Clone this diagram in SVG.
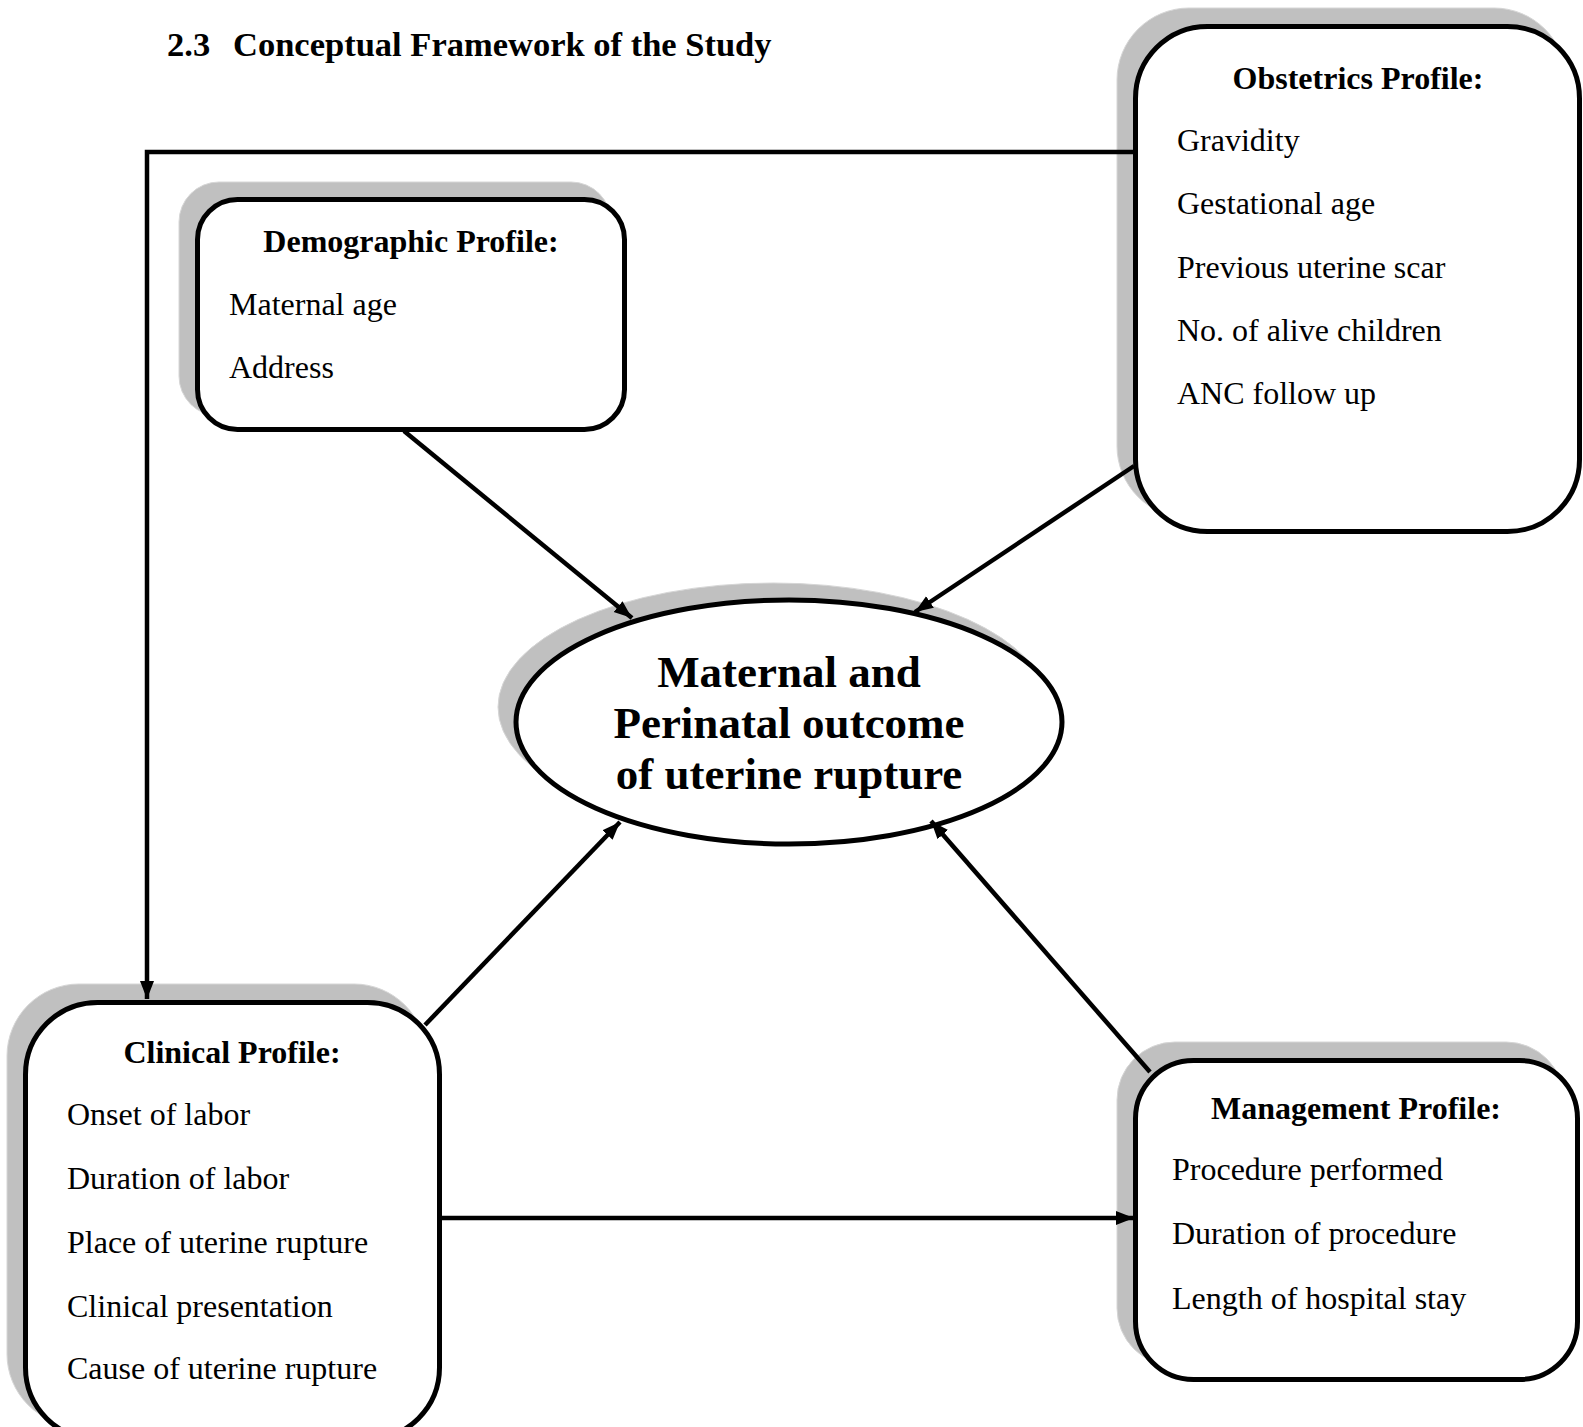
<svg xmlns="http://www.w3.org/2000/svg" width="1583" height="1427" viewBox="0 0 1583 1427">
<style>
.shadow{fill:#c0c0c0;stroke:#d6d6d6;stroke-width:1}
.box{fill:#fff;stroke:#000;stroke-width:5}
.conn{fill:none;stroke:#000;stroke-width:4.5}
text{font-family:"Liberation Serif","Times New Roman",serif;fill:#000}
.h{font-size:32px;font-weight:bold;text-anchor:middle}
.t{font-size:32px}
.c{font-size:45px;font-weight:bold;text-anchor:middle}
.title{font-size:34.5px;font-weight:bold}
</style>
<defs>
<marker id="arr" markerUnits="userSpaceOnUse" markerWidth="20" markerHeight="16" viewBox="0 0 20 16" refX="18" refY="8" orient="auto">
<path d="M0,1 L18,8 L0,15 Z" fill="#000"/>
</marker>
</defs>
<rect width="1583" height="1427" fill="#fff"/>
<g id="title">
<text class="title" x="167" y="56">2.3</text>
<text class="title" x="233" y="56">Conceptual Framework of the Study</text>
</g>
<g id="demographic">
<rect class="shadow" x="179" y="182" width="432" height="234" rx="40"/>
<rect class="box" x="197.5" y="199.5" width="427" height="230" rx="40"/>
<text class="h" x="411" y="252">Demographic Profile:</text>
<text class="t" x="229" y="315">Maternal age</text>
<text class="t" x="229" y="378">Address</text>
</g>
<g id="obstetrics">
<rect class="shadow" x="1117" y="8" width="449" height="510" rx="72"/>
<rect class="box" x="1135.5" y="26.5" width="444" height="505" rx="72"/>
<text class="h" x="1358" y="89">Obstetrics Profile:</text>
<text class="t" x="1177" y="151">Gravidity</text>
<text class="t" x="1177" y="214">Gestational age</text>
<text class="t" x="1177" y="278">Previous uterine scar</text>
<text class="t" x="1177" y="341">No. of alive children</text>
<text class="t" x="1177" y="404">ANC follow up</text>
</g>
<g id="outcome">
<ellipse class="shadow" cx="773" cy="707" rx="275" ry="124"/>
<ellipse class="box" cx="789" cy="722" rx="273" ry="122"/>
<text class="c" x="789" y="687">Maternal and</text>
<text class="c" x="789" y="738">Perinatal outcome</text>
<text class="c" x="789" y="789">of uterine rupture</text>
</g>
<g id="clinical">
<rect class="shadow" x="7" y="984" width="419" height="442" rx="72"/>
<rect class="box" x="25.5" y="1002.5" width="414" height="437" rx="72"/>
<text class="h" x="232" y="1063">Clinical Profile:</text>
<text class="t" x="67" y="1125">Onset of labor</text>
<text class="t" x="67" y="1189">Duration of labor</text>
<text class="t" x="67" y="1253">Place of uterine rupture</text>
<text class="t" x="67" y="1317">Clinical presentation</text>
<text class="t" x="67" y="1379">Cause of uterine rupture</text>
</g>
<g id="management">
<rect class="shadow" x="1117" y="1042" width="447" height="324" rx="58"/>
<rect class="box" x="1135.5" y="1060.5" width="442" height="319" rx="58"/>
<text class="h" x="1356" y="1119">Management Profile:</text>
<text class="t" x="1172" y="1180">Procedure performed</text>
<text class="t" x="1172" y="1244">Duration of procedure</text>
<text class="t" x="1172" y="1309">Length of hospital stay</text>
</g>
<g id="connectors">
<line class="conn" x1="404" y1="431" x2="632" y2="618" marker-end="url(#arr)"/>
<line class="conn" x1="1134" y1="466" x2="915" y2="612" marker-end="url(#arr)"/>
<line class="conn" x1="425" y1="1025" x2="620" y2="822" marker-end="url(#arr)"/>
<line class="conn" x1="1150" y1="1072" x2="931" y2="821" marker-end="url(#arr)"/>
<line class="conn" x1="440" y1="1218" x2="1134" y2="1218" marker-end="url(#arr)"/>
<path class="conn" d="M1133,152 H147 V999" marker-end="url(#arr)"/>
</g>
</svg>
